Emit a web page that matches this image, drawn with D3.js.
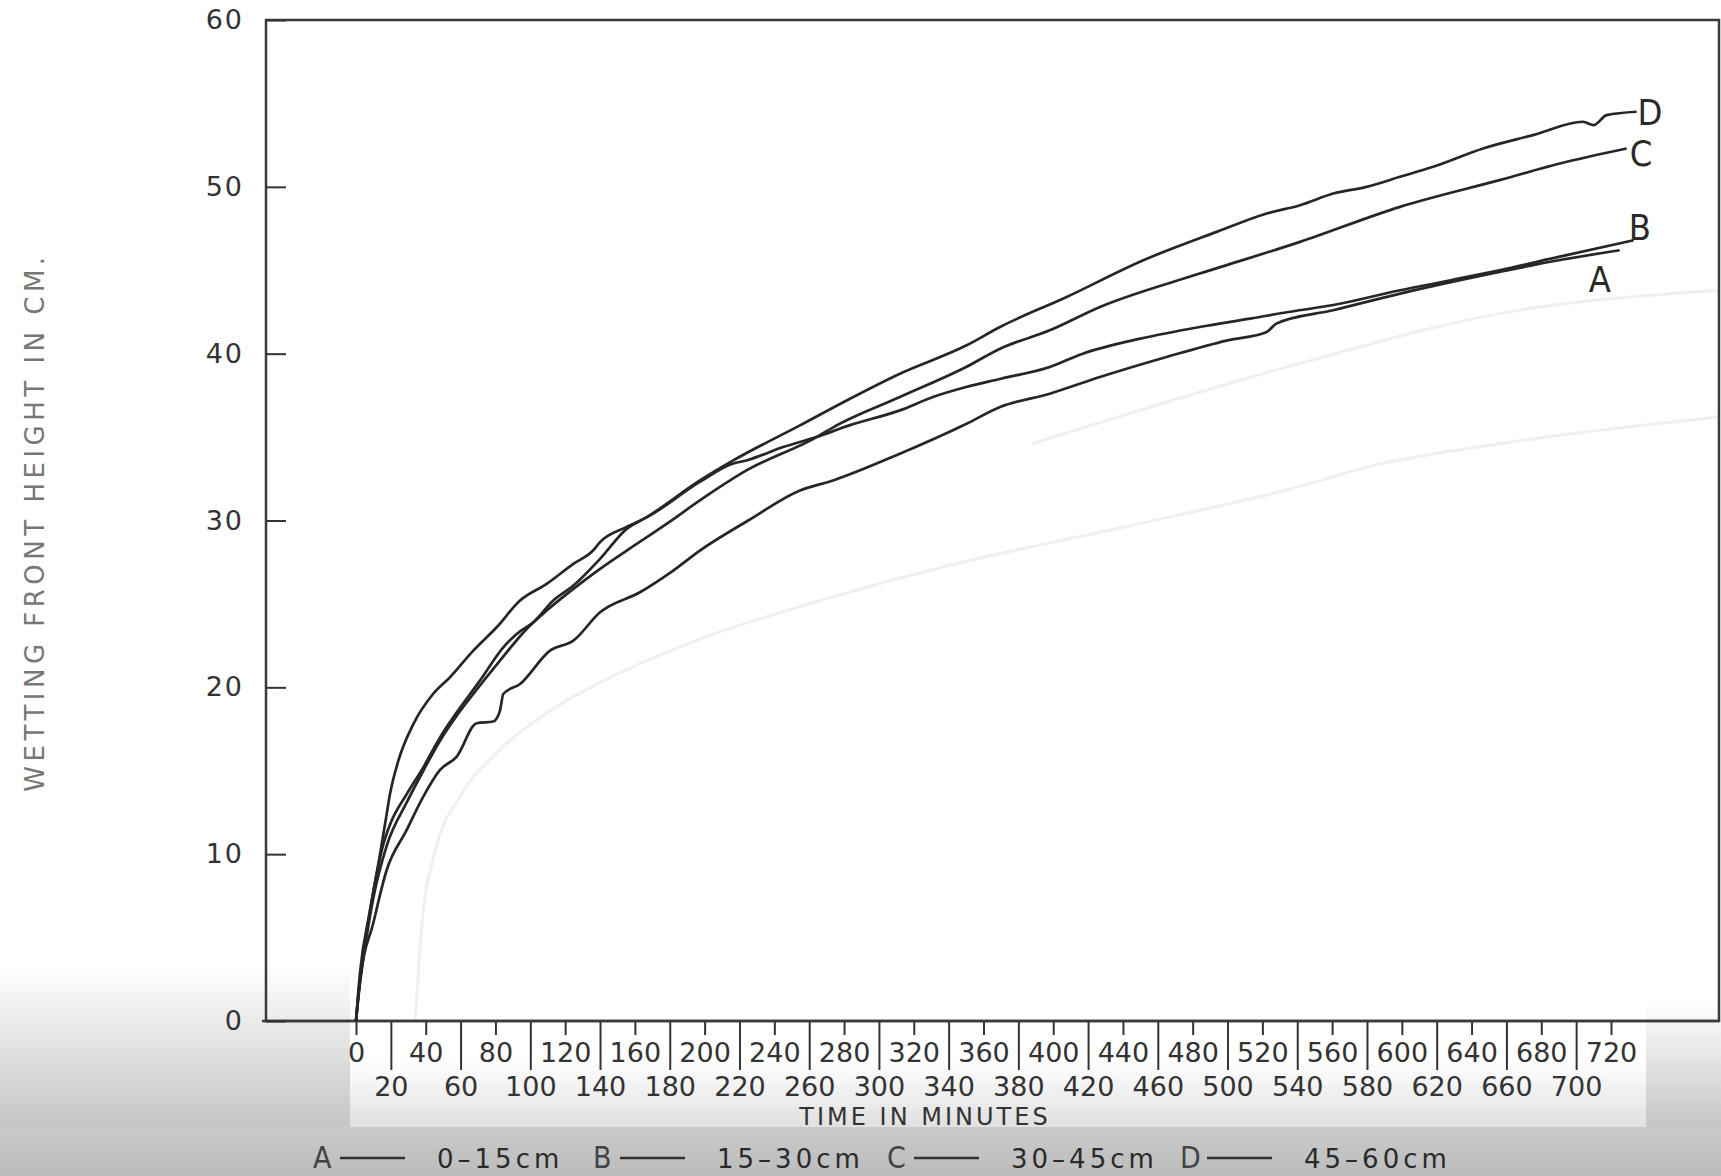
<!DOCTYPE html>
<html>
<head>
<meta charset="utf-8">
<script src="https://cdn.jsdelivr.net/npm/d3@7"></script>
<style>
  body { margin: 0; background: #fff; }
  svg { display: block; }
  .tick text { font-family: "DejaVu Sans", sans-serif; fill: #333; }
</style>
</head>
<body>
<div id="chart"></div>
<script>
// page size
var svgWidth = 1721;
var svgHeight = 1176;

// plot box
var margin = { top: 20, left: 266, right: 2, bottom: 155 };
var x0 = 356;   // where time 0 sits on the axis
var x720 = 1611;

// ---- data (time in minutes, height in cm) ----
var timeA   = [0, 2.3, 9.9, 17.6, 29.1, 38.6, 48.2, 57.8, 69.2, 78.8, 82.6, 84.5, 94.1, 111.3, 124.7, 140, 162.9, 182, 197.3, 225, 254.7, 273.7, 312, 350.3, 369.5, 398, 426.8, 465, 500, 522.5, 528, 560.5, 599, 656, 690, 725];
var heightA = [0, 2.46, 5.86, 9.05, 11.45, 13.45, 15.05, 15.85, 17.85, 17.95, 18.6, 19.6, 20.2, 22.2, 22.8, 24.5, 25.7, 27.0, 28.2, 30.0, 31.8, 32.4, 34.0, 35.8, 36.8, 37.6, 38.6, 39.8, 40.8, 41.3, 41.8, 42.6, 43.6, 44.9, 45.6, 46.2];

var timeB   = [0, 2.3, 8, 13.8, 17.6, 19.5, 24.3, 32.9, 44.2, 53.9, 67.3, 80.7, 94.1, 109.4, 124.7, 136, 140, 155, 167, 197, 216, 224, 245, 264, 283, 312, 331, 350, 370, 398, 417, 450, 484, 513, 541, 560, 599, 628, 656, 690, 733];
var heightB = [0, 2.9, 6.6, 10.0, 12.4, 13.6, 15.6, 17.8, 19.6, 20.6, 22.2, 23.6, 25.2, 26.2, 27.4, 28.2, 28.7, 29.6, 30.2, 32.3, 33.4, 33.6, 34.4, 35.0, 35.7, 36.6, 37.4, 38.0, 38.5, 39.2, 40.0, 40.9, 41.6, 42.1, 42.6, 42.9, 43.8, 44.4, 45.0, 45.8, 46.8];

var timeC   = [0, 2, 5, 10, 17.6, 29.1, 38.6, 48.2, 57.8, 67.3, 82.6, 97.9, 109.4, 124.7, 140, 155.3, 178.2, 200, 224, 264.3, 274, 312, 350, 369.5, 398, 426.8, 484, 541.6, 599, 656, 694.6, 729];
var heightC = [0, 2.0, 4.3, 7.4, 10.5, 13.1, 15.0, 16.8, 18.3, 19.6, 21.6, 23.5, 24.6, 25.9, 27.1, 28.2, 29.8, 31.4, 33.0, 35.0, 35.6, 37.4, 39.2, 40.3, 41.4, 42.8, 44.8, 46.7, 48.8, 50.4, 51.5, 52.3];

var timeD   = [0, 2, 5, 10, 15.7, 20, 29.1, 38.6, 48.2, 57.8, 71.1, 84.5, 92.2, 101.7, 113.2, 124.7, 140, 155.3, 166.8, 197.3, 216.4, 254.7, 283.4, 312, 350.3, 369.5, 407.7, 451.7, 493.8, 522.5, 541.6, 560.7, 579.8, 599, 618, 646.6, 675.3, 704, 710, 717.5, 734.7];
var heightD = [0, 2.2, 4.6, 7.8, 10.6, 11.9, 13.6, 15.2, 17.0, 18.5, 20.4, 22.4, 23.2, 23.9, 25.2, 26.1, 27.7, 29.5, 30.2, 32.4, 33.6, 35.7, 37.3, 38.8, 40.5, 41.6, 43.4, 45.6, 47.3, 48.4, 48.9, 49.6, 50.0, 50.6, 51.2, 52.3, 53.1, 53.9, 53.7, 54.3, 54.5];

// faint show-through curves from the back of the scanned page
var timeGhost1   = [34, 38, 45, 60, 80, 110, 150, 200, 260, 340, 440, 540, 580, 656, 782];
var heightGhost1 = [0, 6, 10, 13.5, 16, 18.5, 20.8, 23, 25, 27.3, 29.6, 32.0, 33.2, 34.6, 36.2];
var timeGhost2   = [388, 541, 656, 782];
var heightGhost2 = [34.6, 39.4, 42.4, 43.8];

var seriesKeys = ["A", "B", "C", "D"];
var legendRanges = ["0\u201315cm", "15\u201330cm", "30\u201345cm", "45\u201360cm"];
var yTicks = [0, 10, 20, 30, 40, 50, 60];
var xTicksTop = d3.range(0, 721, 40);      // first row: 0, 40, ... 720
var xTicksBottom = d3.range(20, 701, 40);  // second row: 20, 60, ... 700

// where the curve letters sit relative to the curve's last point
var endLabel = {
  A: { dx: -31, dy: 42 },
  B: { dx: -5, dy: 0 },
  C: { dx: 3, dy: 18 },
  D: { dx: 1, dy: 13 }
};

var svg = d3.select("#chart")
  .append("svg")
  .attr("width", svgWidth)
  .attr("height", svgHeight);

// scan shadow along the bottom
var defs = svg.append("defs");
var g1 = defs.append("linearGradient").attr("id", "shadeV").attr("x1", 0).attr("y1", 0).attr("x2", 0).attr("y2", 1);
g1.append("stop").attr("offset", "0%").attr("stop-color", "#ffffff");
g1.append("stop").attr("offset", "100%").attr("stop-color", "#c4c4c4");
var g2 = defs.append("linearGradient").attr("id", "shadeB").attr("x1", 0).attr("y1", 0).attr("x2", 0).attr("y2", 1);
g2.append("stop").attr("offset", "0%").attr("stop-color", "#cacaca");
g2.append("stop").attr("offset", "100%").attr("stop-color", "#bcbcbc");

svg.append("rect").attr("x", 0).attr("y", 965).attr("width", 350).attr("height", 165).attr("fill", "url(#shadeV)");
svg.append("rect").attr("x", 1646).attr("y", 1000).attr("width", 75).attr("height", 130).attr("fill", "url(#shadeV)");
svg.append("rect").attr("x", 350).attr("y", 1060).attr("width", 1296).attr("height", 70).attr("fill", "url(#shadeV)").attr("opacity", 0.55);
svg.append("rect").attr("x", 0).attr("y", 1127).attr("width", svgWidth).attr("height", 49).attr("fill", "url(#shadeB)");

// scales
var xScale = d3.scaleLinear().domain([0, 720]).range([x0, x720]);
var yScale = d3.scaleLinear().domain([0, 60]).range([svgHeight - margin.bottom, margin.top]);

var line = d3.line()
  .x(d => xScale(d[0]))
  .y(d => yScale(d[1]))
  .curve(d3.curveMonotoneX);

// ghost curves
[[timeGhost1, heightGhost1], [timeGhost2, heightGhost2]].forEach(g => {
  svg.append("path")
    .datum(d3.zip(g[0], g[1]))
    .attr("d", line)
    .attr("fill", "none")
    .attr("stroke", "#f0f0f0")
    .attr("stroke-width", 3);
});

// plot frame
svg.append("rect")
  .attr("x", margin.left)
  .attr("y", margin.top)
  .attr("width", svgWidth - margin.right - margin.left)
  .attr("height", yScale(0) - margin.top)
  .attr("fill", "none")
  .attr("stroke", "#3a3a3a")
  .attr("stroke-width", 2.5);

// x axis, first row (short ticks)
var xTop = svg.append("g")
  .attr("transform", `translate(0, ${yScale(0)})`)
  .call(d3.axisBottom(xScale).tickValues(xTicksTop).tickSize(14).tickPadding(8).tickFormat(d3.format("d")));
// x axis, second row (long ticks)
var xBottom = svg.append("g")
  .attr("transform", `translate(0, ${yScale(0)})`)
  .call(d3.axisBottom(xScale).tickValues(xTicksBottom).tickSize(49).tickPadding(7).tickFormat(d3.format("d")));

[xTop, xBottom].forEach(ax => {
  ax.select(".domain").remove();
  ax.selectAll("line").attr("stroke", "#333").attr("stroke-width", 2);
  ax.selectAll("text").style("font-size", "27px").attr("fill", "#333");
});

// x axis base line
svg.append("line")
  .attr("x1", 262).attr("x2", svgWidth - margin.right)
  .attr("y1", yScale(0)).attr("y2", yScale(0))
  .attr("stroke", "#3a3a3a").attr("stroke-width", 2.5);

// y axis (ticks point inwards)
var yAxis = svg.append("g")
  .attr("transform", `translate(${margin.left}, 0)`)
  .call(d3.axisLeft(yScale).tickValues(yTicks).tickSizeInner(-20).tickSizeOuter(0).tickPadding(22));
yAxis.select(".domain").remove();
yAxis.selectAll("line").attr("stroke", "#333").attr("stroke-width", 2);
yAxis.selectAll("text")
  .style("font-size", "27px")
  .style("letter-spacing", "2px")
  .attr("fill", "#2e2e2e");

// axis titles
svg.append("text")
  .attr("x", 925)
  .attr("y", 1125)
  .attr("text-anchor", "middle")
  .style("font-family", "DejaVu Sans, sans-serif")
  .style("font-size", "24px")
  .style("letter-spacing", "3px")
  .attr("fill", "#333")
  .text("TIME IN MINUTES");

svg.append("text")
  .attr("transform", "translate(44, 522) rotate(-90)")
  .attr("text-anchor", "middle")
  .style("font-family", "DejaVu Sans, sans-serif")
  .style("font-size", "26px")
  .style("letter-spacing", "4.5px")
  .attr("fill", "#777")
  .text("WETTING FRONT HEIGHT IN CM.");

// curves
var series = {
  A: d3.zip(timeA, heightA),
  B: d3.zip(timeB, heightB),
  C: d3.zip(timeC, heightC),
  D: d3.zip(timeD, heightD)
};

seriesKeys.forEach(k => {
  var pts = series[k];
  svg.append("path")
    .datum(pts)
    .attr("d", line)
    .attr("fill", "none")
    .attr("stroke", "#262626")
    .attr("stroke-width", 2.7)
    .attr("stroke-linejoin", "round");

  var last = pts[pts.length - 1];
  svg.append("text")
    .attr("x", xScale(last[0]) + endLabel[k].dx)
    .attr("y", yScale(last[1]) + endLabel[k].dy)
    .style("font-family", "Liberation Sans Narrow, DejaVu Sans Condensed, sans-serif")
    .style("font-size", "36px")
    .attr("fill", "#2a2a2a")
    .text(k);
});

// legend along the bottom
var legendX = [313, 593, 887, 1180];
var legend = svg.append("g").attr("transform", "translate(0, 1168)");
seriesKeys.forEach((k, i) => {
  var lx = legendX[i];
  legend.append("text")
    .attr("x", lx)
    .attr("y", 0)
    .style("font-family", "Liberation Sans Narrow, DejaVu Sans Condensed, sans-serif")
    .style("font-size", "30px")
    .attr("fill", "#444")
    .text(k);
  legend.append("line")
    .attr("x1", lx + 27).attr("x2", lx + 92)
    .attr("y1", -10).attr("y2", -10)
    .attr("stroke", "#333").attr("stroke-width", 2.5);
  legend.append("text")
    .attr("x", lx + 124)
    .attr("y", 0)
    .style("font-family", "DejaVu Sans, sans-serif")
    .style("font-size", "26px")
    .style("letter-spacing", "4px")
    .attr("fill", "#2a2a2a")
    .text(legendRanges[i]);
});
</script>
</body>
</html>
